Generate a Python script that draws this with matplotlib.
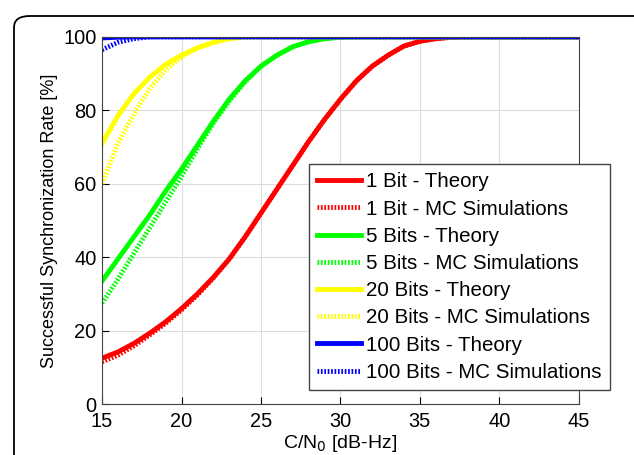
import matplotlib.pyplot as plt
from matplotlib.patches import FancyBboxPatch

plt.rcParams['font.family'] = ['Liberation Sans', 'DejaVu Sans']

# C/N0 grid [dB-Hz]
cn0 = list(range(15, 46))

bit1_theory = [12.5, 14.2, 16.5, 19.3, 22.4, 26, 30, 34.5, 39.5, 45.5, 52, 58.5, 65, 71.5, 77.5, 83,
               88, 92, 95, 97.5, 98.8, 99.5, 99.9, 100, 100, 100, 100, 100, 100, 100, 100]
bit1_mc = [11.5, 13.3, 15.8, 18.8, 22, 25.6, 29.7, 34.3, 39.5, 45.5, 52, 58.5, 65, 71.5, 77.5, 83,
           88, 92, 95, 97.5, 98.8, 99.5, 99.9, 100, 100, 100, 100, 100, 100, 100, 100]
bit5_theory = [33.5, 39.5, 45.5, 51.5, 58, 64, 70.5, 77, 83, 88, 92, 95, 97.3, 98.7, 99.5, 99.9,
               100, 100, 100, 100, 100, 100, 100, 100, 100, 100, 100, 100, 100, 100, 100]
bit5_mc = [27.5, 34, 41, 48, 55, 62, 69.5, 76.5, 82.5, 87.8, 92, 95, 97.3, 98.7, 99.5, 99.9,
           100, 100, 100, 100, 100, 100, 100, 100, 100, 100, 100, 100, 100, 100, 100]
bit20_theory = [71, 78.5, 84.5, 89, 92.5, 95, 97, 98.5, 99.5, 100, 100, 100, 100, 100, 100, 100,
                100, 100, 100, 100, 100, 100, 100, 100, 100, 100, 100, 100, 100, 100, 100]
bit20_mc = [60, 71, 79, 86, 91, 94.5, 97, 98.5, 99.5, 100, 100, 100, 100, 100, 100, 100,
            100, 100, 100, 100, 100, 100, 100, 100, 100, 100, 100, 100, 100, 100, 100]
bit100_theory = [99.7, 99.9, 100, 100, 100, 100, 100, 100, 100, 100, 100, 100, 100, 100, 100, 100,
                 100, 100, 100, 100, 100, 100, 100, 100, 100, 100, 100, 100, 100, 100, 100]
bit100_mc = [96.5, 98.5, 99.5, 100, 100, 100, 100, 100, 100, 100, 100, 100, 100, 100, 100, 100,
             100, 100, 100, 100, 100, 100, 100, 100, 100, 100, 100, 100, 100, 100, 100]

fig = plt.figure(figsize=(6.34, 4.55), dpi=100)

# zaokraglona ramka wokol calego wykresu
frame = FancyBboxPatch((14 / 634, -0.1), 1.2, 1.1 - 16 / 455,
                       boxstyle='round,pad=0,rounding_size=0.025',
                       transform=fig.transFigure, facecolor='none',
                       edgecolor='black', linewidth=1.3)
fig.patches.append(frame)

ax = fig.add_axes([0.161, 0.112, 0.752, 0.807])

dots = (0, (0.35, 0.35))
ax.plot(cn0, bit1_theory, color='red', lw=3.5, label='1 Bit - Theory')
ax.plot(cn0, bit1_mc, color='red', lw=3.5, ls=dots, label='1 Bit - MC Simulations')
ax.plot(cn0, bit5_theory, color='#00ff00', lw=3.5, label='5 Bits - Theory')
ax.plot(cn0, bit5_mc, color='#00ff00', lw=3.5, ls=dots, label='5 Bits - MC Simulations')
ax.plot(cn0, bit20_theory, color='yellow', lw=3.5, label='20 Bits - Theory')
ax.plot(cn0, bit20_mc, color='yellow', lw=3.5, ls=dots, label='20 Bits - MC Simulations')
ax.plot(cn0, bit100_theory, color='blue', lw=3.5, label='100 Bits - Theory')
ax.plot(cn0, bit100_mc, color='blue', lw=3.5, ls=dots, label='100 Bits - MC Simulations')

ax.set_xlim(15, 45)
ax.set_ylim(0, 100)
ax.set_xticks(range(15, 46, 5))
ax.set_yticks(range(0, 101, 20))
ax.grid(True, color='#dddddd', lw=0.8)
ax.tick_params(direction='in', labelsize=14.4, length=5)
ax.tick_params(axis='x', pad=6)
ax.tick_params(axis='y', pad=4)
for s in ax.spines.values():
    s.set_color('#444444')

ax.set_xlabel('C/N$_0$ [dB-Hz]', fontsize=14, labelpad=1.5)
ax.set_ylabel('Successful Synchronization Rate [%]', fontsize=13, labelpad=4)

leg = ax.legend(loc='lower right', bbox_to_anchor=(1.065, 0.038), fontsize=14.8,
                fancybox=False, framealpha=1, edgecolor='#444444',
                handlelength=2.15, labelspacing=0.4, borderpad=0.4, handletextpad=0.25,
                borderaxespad=0)

fig.savefig('out.png', dpi=100)
